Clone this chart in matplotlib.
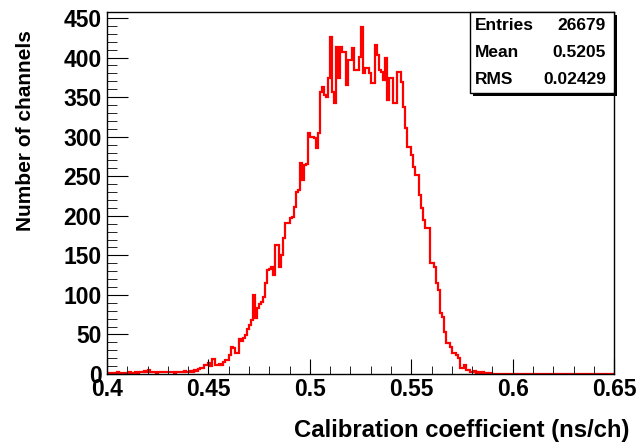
import numpy as np
import matplotlib.pyplot as plt
from matplotlib.patches import Rectangle
from matplotlib.ticker import MultipleLocator

# histogram: 250 bins of 0.001 between 0.40 and 0.65
x_lo, x_hi, n_bins = 0.40, 0.65, 250
counts_head = [
    1, 0, 1, 1, 0, 2, 1, 1, 0, 1,
    1, 2, 1, 1, 2, 1, 2, 3, 4, 3,
    5, 3, 2, 2, 1, 2, 2, 3, 2, 2,
    2, 3, 2, 1, 3, 2, 3, 2, 4, 3,
    3, 4, 3, 5, 4, 6, 7, 8, 11, 11,
    14, 10, 19, 12, 11, 13, 12, 15, 18, 18,
    24, 34, 33, 27, 27, 44, 42, 46, 49, 57,
    62, 68, 100, 71, 83, 88, 91, 97, 115, 131,
    133, 135, 125, 163, 163, 135, 150, 172, 191, 191,
    197, 199, 211, 230, 232, 267, 245, 264, 266, 305,
    300, 300, 298, 286, 305, 357, 363, 353, 350, 374,
    426, 357, 343, 413, 374, 413, 407, 407, 365, 397,
    397, 412, 384, 384, 401, 439, 380, 387, 387, 380,
    368, 368, 416, 403, 384, 382, 372, 400, 346, 374,
    374, 343, 343, 382, 382, 369, 338, 311, 287, 287,
    277, 262, 252, 252, 226, 210, 195, 185, 185, 140,
    140, 135, 115, 106, 77, 72, 53, 39, 39, 34,
    27, 27, 24, 20, 8, 8, 11, 5, 5, 3,
    2, 4, 1, 2, 1, 2, 1, 1, 0, 1,
]
counts = np.array(counts_head + [0] * (n_bins - len(counts_head)))
edges = np.linspace(x_lo, x_hi, n_bins + 1)

stat_names = ["Entries", "Mean", "RMS"]
stat_values = ["26679", "0.5205", "0.02429"]

plt.rcParams['font.family'] = ['Liberation Sans', 'DejaVu Sans']
plt.rcParams['font.weight'] = 'bold'

fig = plt.figure(figsize=(6.37, 4.46), dpi=100)
ax = fig.add_axes([0.168, 0.1614, 0.796, 0.8117])

ax.stairs(counts, edges, color='red', lw=1.6)
ax.set_xlim(x_lo, x_hi)
ax.set_ylim(0, 457.6)

ax.xaxis.set_major_locator(MultipleLocator(0.05))
ax.xaxis.set_minor_locator(MultipleLocator(0.01))
ax.yaxis.set_major_locator(MultipleLocator(50))
ax.yaxis.set_minor_locator(MultipleLocator(10))
ax.xaxis.set_major_formatter(plt.FuncFormatter(lambda v, p: f"{v:g}"))
ax.tick_params(axis='both', which='both', direction='in', labelsize=16.5,
               top=False, right=False)
ax.tick_params(axis='x', which='major', length=11, pad=3)
ax.tick_params(axis='x', which='minor', length=5.5)
ax.tick_params(axis='y', which='major', length=15, pad=4)
ax.tick_params(axis='y', which='minor', length=7.5)
for s in ax.spines.values():
    s.set_linewidth(1.0)

ax.set_xlabel("Calibration coefficient (ns/ch)", fontsize=17.2, fontweight='bold')
ax.xaxis.set_label_coords(1.03, -0.125)
ax.xaxis.label.set_ha('right')
ax.set_ylabel("Number of channels", fontsize=15, fontweight='bold')
ax.yaxis.set_label_coords(-0.18, 0.95)
ax.yaxis.label.set_va('top')
ax.yaxis.label.set_ha('right')

# stat box
bx0, by0, bw, bh = 0.716, 0.776, 0.284, 0.224
ax.add_patch(Rectangle((bx0 + 0.006, by0 - 0.008), bw, bh, transform=ax.transAxes,
                       facecolor='black', edgecolor='none', clip_on=False, zorder=4))
ax.add_patch(Rectangle((bx0, by0), bw, bh, transform=ax.transAxes,
                       facecolor='white', edgecolor='black', lw=1.0,
                       clip_on=False, zorder=5))
for k, (nm, val) in enumerate(zip(stat_names, stat_values)):
    yy = by0 + bh * (5 - 2 * k) / 6
    ax.text(bx0 + 0.010, yy, nm, transform=ax.transAxes, fontsize=12.5,
            fontweight='bold', va='center', ha='left', zorder=6)
    ax.text(bx0 + bw - 0.016, yy, val, transform=ax.transAxes, fontsize=12.5,
            fontweight='bold', va='center', ha='right', zorder=6)

fig.savefig("out.png", dpi=100)
